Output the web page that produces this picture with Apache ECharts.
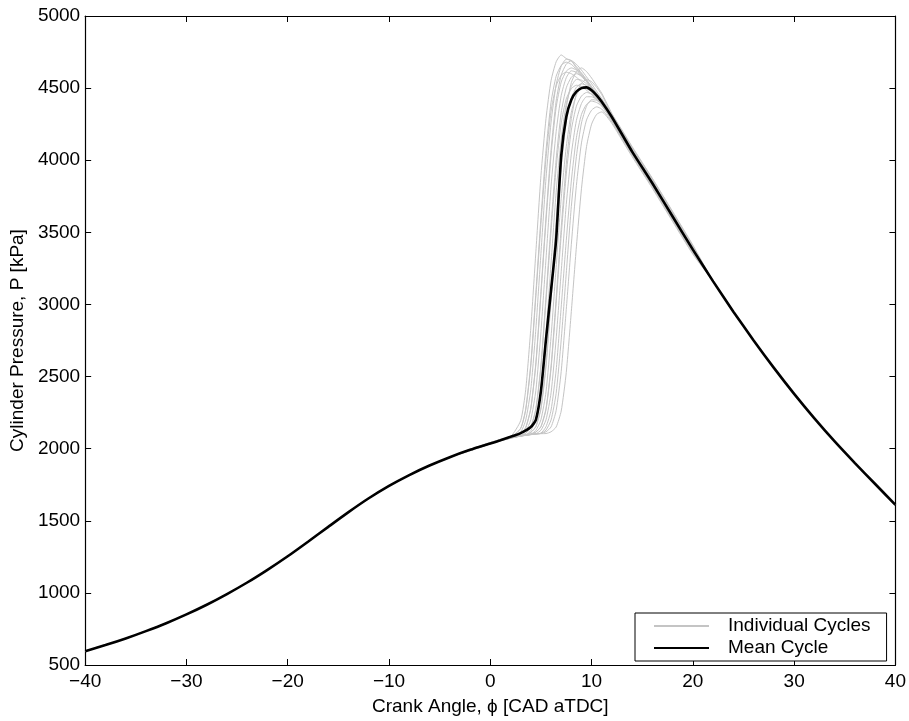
<!DOCTYPE html>
<html>
<head>
<meta charset="utf-8">
<script src="https://cdn.jsdelivr.net/npm/echarts@6/dist/echarts.min.js"></script>
<style>
  html, body { margin: 0; padding: 0; background: #fff; }
  #main { width: 909px; height: 721px; }
</style>
</head>
<body>
<div id="main"></div>
<script>
// mean cycle
var meanCrank = [-40, -38, -36, -34, -32, -30, -28, -26, -24, -22, -20, -18, -16, -14, -12, -10, -8, -6, -4, -2, 0, 1, 2, 3, 4, 4.5, 5, 5.5, 6, 6.5, 7, 7.5, 8, 8.5, 9, 9.5, 10, 10.5, 11, 12, 13, 14, 16, 18, 20, 22, 24, 26, 28, 30, 32, 34, 36, 38, 40];
var meanPressure = [596, 638, 684, 735, 790, 851, 918, 992, 1072, 1160, 1254, 1355, 1458, 1560, 1656, 1742, 1817, 1883, 1941, 1992, 2036, 2058, 2082, 2108, 2150, 2200, 2400, 2760, 3100, 3450, 4030, 4300, 4420, 4475, 4500, 4505, 4485, 4450, 4405, 4300, 4180, 4060, 3840, 3610, 3380, 3160, 2950, 2750, 2560, 2380, 2210, 2050, 1900, 1755, 1610];

// individual cycles around combustion (outside this window they sit on the mean)
var cycleCrank = [-2, 0, 1, 2, 3, 3.5, 4, 4.5, 5, 5.5, 6, 6.5, 7, 7.5, 8, 8.5, 9, 9.5, 10, 10.5, 11, 12, 13, 14, 16, 18, 20];
var cycle01 = [1995, 2042, 2063, 2082, 2195, 2411, 2836, 3365, 3893, 4289, 4552, 4682, 4730, 4705, 4690, 4640, 4600, 4555, 4510, 4465, 4420, 4320, 4210, 4095, 3875, 3645, 3412];
var cycle02 = [1985, 2034, 2056, 2078, 2142, 2276, 2590, 3083, 3601, 4067, 4402, 4582, 4658, 4680, 4665, 4630, 4590, 4545, 4500, 4450, 4400, 4290, 4172, 4058, 3838, 3608, 3378];
var cycle03 = [1992, 2040, 2061, 2080, 2116, 2199, 2412, 2831, 3353, 3874, 4264, 4523, 4652, 4700, 4690, 4650, 4605, 4560, 4510, 4460, 4410, 4300, 4185, 4070, 3850, 3620, 3390];
var cycle04 = [1988, 2036, 2058, 2076, 2103, 2146, 2278, 2586, 3070, 3579, 4036, 4366, 4542, 4617, 4640, 4625, 4590, 4550, 4500, 4450, 4400, 4282, 4165, 4050, 3830, 3602, 3372];
var cycle05 = [1990, 2038, 2059, 2077, 2090, 2120, 2201, 2405, 2811, 3316, 3820, 4197, 4448, 4572, 4620, 4610, 4580, 4545, 4500, 4450, 4400, 4290, 4178, 4062, 3842, 3612, 3382];
var cycle06 = [1993, 2041, 2062, 2079, 2090, 2107, 2150, 2278, 2580, 3056, 3556, 4005, 4329, 4502, 4575, 4600, 4585, 4550, 4505, 4458, 4410, 4302, 4188, 4072, 3852, 3622, 3390];
var cycle07 = [1989, 2035, 2057, 2074, 2088, 2094, 2125, 2201, 2400, 2795, 3287, 3778, 4146, 4390, 4511, 4560, 4555, 4530, 4495, 4450, 4400, 4290, 4173, 4057, 3837, 3607, 3377];
var cycle08 = [1991, 2039, 2060, 2076, 2089, 2094, 2112, 2152, 2275, 2568, 3029, 3514, 3951, 4265, 4433, 4506, 4530, 4520, 4490, 4450, 4400, 4290, 4176, 4061, 3841, 3611, 3381];
var cycle09 = [1987, 2034, 2055, 2073, 2090, 2095, 2100, 2127, 2201, 2394, 2778, 3257, 3736, 4094, 4332, 4450, 4500, 4495, 4475, 4438, 4390, 4270, 4155, 4040, 3818, 3588, 3360];
var cycle10 = [1992, 2038, 2058, 2075, 2089, 2094, 2100, 2115, 2152, 2272, 2556, 3006, 3479, 3903, 4209, 4375, 4445, 4470, 4460, 4430, 4390, 4285, 4174, 4059, 3839, 3609, 3379];
var cycle11 = [1990, 2036, 2058, 2074, 2088, 2093, 2098, 2103, 2128, 2200, 2387, 2760, 3227, 3693, 4042, 4276, 4393, 4440, 4440, 4420, 4385, 4285, 4176, 4061, 3841, 3611, 3381];
var cycle12 = [1994, 2041, 2061, 2078, 2091, 2096, 2101, 2103, 2108, 2152, 2268, 2544, 2982, 3442, 3856, 4156, 4318, 4387, 4410, 4400, 4375, 4280, 4172, 4058, 3838, 3608, 3378];
var cycle13 = [1988, 2035, 2056, 2072, 2087, 2092, 2097, 2101, 2106, 2117, 2151, 2264, 2535, 2965, 3417, 3825, 4120, 4279, 4347, 4370, 4355, 4265, 4150, 4035, 3812, 3582, 3355];
var cycle14 = [1991, 2038, 2059, 2076, 2089, 2094, 2099, 2102, 2104, 2105, 2117, 2150, 2261, 2528, 2951, 3399, 3802, 4094, 4250, 4318, 4335, 4255, 4140, 4025, 3805, 3575, 3348];
var cycle15 = [1986, 2033, 2055, 2073, 2140, 2271, 2577, 3057, 3561, 4014, 4340, 4515, 4589, 4610, 4600, 4575, 4545, 4510, 4470, 4430, 4385, 4280, 4165, 4050, 3830, 3600, 3372];
var cycle16 = [1994, 2043, 2064, 2081, 2103, 2147, 2281, 2595, 3089, 3608, 4074, 4410, 4590, 4666, 4690, 4665, 4625, 4578, 4530, 4478, 4428, 4315, 4205, 4090, 3870, 3640, 3405];
var cycle17 = [1989, 2037, 2057, 2075, 2088, 2105, 2148, 2272, 2565, 3026, 3510, 3944, 4258, 4425, 4496, 4520, 4510, 4485, 4455, 4420, 4380, 4280, 4168, 4053, 3833, 3603, 3374];
var cycle18 = [1993, 2040, 2061, 2078, 2091, 2096, 2113, 2154, 2283, 2589, 3071, 3578, 4034, 4363, 4538, 4615, 4640, 4615, 4570, 4518, 4465, 4325, 4200, 4085, 3865, 3635, 3400];
var cycle19 = [1990, 2039, 2059, 2076, 2089, 2094, 2100, 2115, 2154, 2278, 2573, 3040, 3531, 3972, 4289, 4461, 4533, 4560, 4545, 4505, 4455, 4315, 4190, 4072, 3852, 3620, 3388];
var cycle20 = [1991, 2037, 2058, 2075, 2088, 2093, 2098, 2102, 2106, 2129, 2199, 2383, 2754, 3216, 3678, 4026, 4258, 4374, 4420, 4415, 4390, 4295, 4180, 4064, 3844, 3614, 3384];

var xTicks = [-40, -30, -20, -10, 0, 10, 20, 30, 40];
var yTicks = [500, 1000, 1500, 2000, 2500, 3000, 3500, 4000, 4500, 5000];

var cycles = [cycle01, cycle02, cycle03, cycle04, cycle05, cycle06, cycle07, cycle08, cycle09, cycle10,
              cycle11, cycle12, cycle13, cycle14, cycle15, cycle16, cycle17, cycle18, cycle19, cycle20];

var chart = echarts.init(document.getElementById('main'));

var meanData = meanCrank.map(function (x, i) { return [x, meanPressure[i]]; });
var lo = cycleCrank[0], hi = cycleCrank[cycleCrank.length - 1];

function cycleData(vals) {
  var d = [];
  meanData.forEach(function (p) { if (p[0] < lo) d.push(p); });
  cycleCrank.forEach(function (x, i) { d.push([x, vals[i]]); });
  meanData.forEach(function (p) { if (p[0] > hi) d.push(p); });
  return d;
}

var series = cycles.map(function (c) {
  return {
    name: 'Individual Cycles',
    type: 'line',
    data: cycleData(c),
    symbol: 'none',
    smooth: 0.2,
    lineStyle: { color: '#c4c4c4', width: 1 },
    itemStyle: { color: '#c4c4c4' },
    z: 2
  };
});
series.push({
  name: 'Mean Cycle',
  type: 'line',
  data: meanData,
  symbol: 'none',
  smooth: 0.2,
  lineStyle: { color: '#000', width: 2.6 },
  itemStyle: { color: '#000' },
  z: 3
});

function minus(v) { return String(v).replace('-', '\u2212'); }

var font = 'Liberation Sans, Arial, Helvetica, sans-serif';
var axisLine = { show: true, onZero: false, lineStyle: { color: '#000', width: 1.2 } };
var tick = { show: true, inside: true, length: 6, lineStyle: { color: '#000', width: 1 } };

var option = {
  animation: false,
  backgroundColor: '#fff',
  grid: { left: 85, right: 12, top: 16, bottom: 53, containLabel: false },
  legend: {
    data: ['Individual Cycles', 'Mean Cycle'],
    orient: 'vertical',
    left: 635,
    top: 613,
    padding: [3, 16, 3, 18],
    itemGap: 2,
    itemWidth: 55,
    itemHeight: 20,
    backgroundColor: '#fff',
    borderColor: '#000',
    borderWidth: 1,
    itemStyle: { opacity: 0 },
    textStyle: { fontFamily: font, fontSize: 19, color: '#000', lineHeight: 20, padding: [0, 0, 0, 14] }
  },
  xAxis: [{
    type: 'value', min: -40, max: 40, interval: 10,
    name: 'Crank Angle, \u03d5 [CAD aTDC]',
    nameLocation: 'middle', nameGap: 32,
    nameTextStyle: { fontFamily: font, fontSize: 19, color: '#000' },
    axisLine: axisLine, axisTick: tick, splitLine: { show: false },
    axisLabel: { fontFamily: font, fontSize: 19, color: '#000', margin: 7, formatter: minus }
  }, {
    type: 'value', min: -40, max: 40, interval: 10, position: 'top',
    axisLine: axisLine, axisTick: tick, splitLine: { show: false },
    axisLabel: { show: false }
  }],
  yAxis: [{
    type: 'value', min: 500, max: 5000, interval: 500,
    name: 'Cylinder Pressure, P [kPa]',
    nameLocation: 'middle', nameGap: 58, nameRotate: 90,
    nameTextStyle: { fontFamily: font, fontSize: 19, color: '#000' },
    axisLine: axisLine, axisTick: tick, splitLine: { show: false },
    axisLabel: { fontFamily: font, fontSize: 19, color: '#000', margin: 5, formatter: function (v) { return String(v); } }
  }, {
    type: 'value', min: 500, max: 5000, interval: 500, position: 'right',
    axisLine: axisLine, axisTick: tick, splitLine: { show: false },
    axisLabel: { show: false }
  }],
  series: series
};

chart.setOption(option);
</script>
</body>
</html>
